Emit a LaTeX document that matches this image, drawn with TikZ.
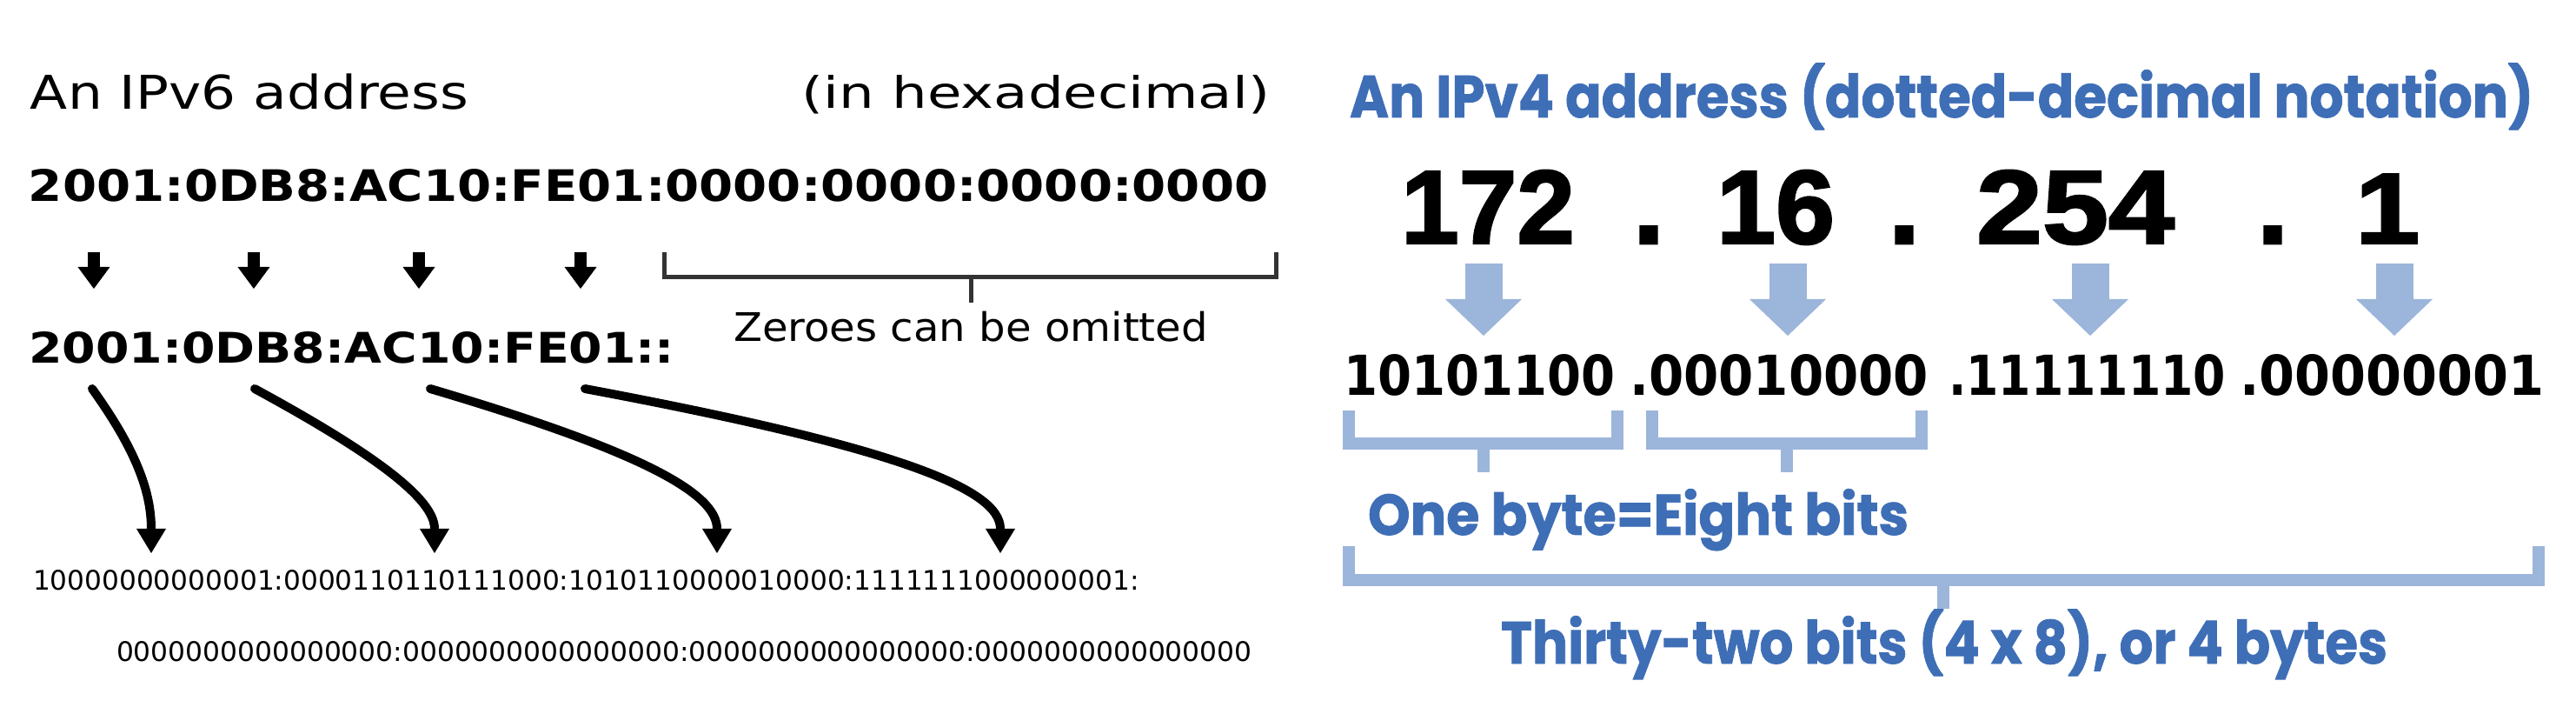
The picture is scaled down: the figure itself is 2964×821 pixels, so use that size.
\documentclass[tikz,border=0pt]{standalone}
\usepackage{fontspec}
\usepackage{graphicx}
\setmainfont{DejaVu Sans}
\newfontfamily\popf{Poppins}[BoldFeatures={FakeBold=1.2}]
\newfontfamily\libf{Liberation Sans}[BoldFeatures={FakeBold=2}]
\usetikzlibrary{arrows.meta}
\newdimen\pxu \pxu=0.25pt
\newcommand\fitbox[4]{\resizebox{#1\pxu}{#2\pxu}{\vphantom{#3}\smash{#4}}}
\definecolor{ipblue}{HTML}{3E6EB6}
\definecolor{ltblue}{HTML}{9CB5DA}
\definecolor{brk}{HTML}{333333}
\begin{document}
\begin{tikzpicture}[x=0.25pt,y=-0.25pt,
  txt/.style={inner sep=0pt,outer sep=0pt,anchor=base west},
  ctxt/.style={inner sep=0pt,outer sep=0pt,anchor=base},
  blackarrow/.style={line width=3.5pt,-{Triangle[width=9.25pt,length=6.25pt,line width=0pt]}},
  curvearrow/.style={line width=2.5pt,line cap=round,-{Triangle[width=8.5pt,length=7pt,line width=0pt]}},
  bluearrow/.style={ltblue,line width=10.75pt,-{Triangle[width=22pt,length=10.5pt,line width=0pt]}},
  bluebracket/.style={ltblue,line width=3.3pt},
  graybracket/.style={brk,line width=1.25pt}]
\fill[white] (0,0) rectangle (2964,821);
\useasboundingbox (0,0) rectangle (2964,821);

% ---------------- IPv6 side ----------------
\node[txt] (t6) at (35,126) {\fitbox{504}{39}{A}{An IPv6 address}};
\node[txt,anchor=base east] (thex) at (1461,125) {\fitbox{538}{38}{h}{(in hexadecimal)}};
\node[txt] (hex1) at (33,232) {\bfseries\fitbox{1426}{37}{0}{2001:0DB8:AC10:FE01:0000:0000:0000:0000}};
\node[txt] (hex2) at (33,418) {\bfseries\fitbox{743}{36}{0}{2001:0DB8:AC10:FE01::}};
\node[txt] (zer) at (844,393) {\fitbox{546}{33}{Z}{Zeroes can be omitted}};
\node[txt] (bin1) at (38,678) {\fitbox{1273}{23}{0}{10000000000001:0000110110111000:1010110000010000:1111111000000001:}};
\node[txt] (bin2) at (134,760) {\fitbox{1307}{23}{0}{0000000000000000:0000000000000000:0000000000000000:0000000000000000}};

% small arrows
\foreach \i/\x in {1/108,2/292,3/482,4/668}{
  \coordinate (sa\i) at (\x,290);
  \coordinate (sb\i) at (\x,332);
  \draw[blackarrow] (sa\i) -- (sb\i);
}
% bracket over zeroes
\coordinate (zl) at (764,290);
\coordinate (zr) at (1468,290);
\coordinate (zt) at (1117,348);
\draw[graybracket] (zl) -- (764,319) -- (1468,319) -- (zr);
\draw[graybracket] (1117,319) -- (zt);

% curved arrows
\coordinate (c1s) at (106,447); \coordinate (c1e) at (174,636);
\coordinate (c2s) at (293,447); \coordinate (c2e) at (500,636);
\coordinate (c3s) at (495,447); \coordinate (c3e) at (825,636);
\coordinate (c4s) at (673,447); \coordinate (c4e) at (1151,636);
\draw[curvearrow] (c1s) .. controls (157,518) and (174,566) .. (c1e);
\draw[curvearrow] (c2s) .. controls (448,531) and (500,578) .. (c2e);
\draw[curvearrow] (c3s) .. controls (742,520) and (825,568) .. (c3e);
\draw[curvearrow] (c4s) .. controls (1031,514) and (1151,562) .. (c4e);

% ---------------- IPv4 side ----------------
\node[txt] (t4) at (1553,135) {\color{ipblue}\popf\bfseries\fitbox{1362}{48}{A}{An IPv4 address (dotted-decimal notation)}};

\node[txt] (n1) at (1612,280) {\libf\bfseries\fitbox{200}{83}{1}{172}};
\node[txt] (n2) at (1975,280) {\libf\bfseries\fitbox{136}{83}{1}{16}};
\node[txt] (n3) at (2274,280) {\libf\bfseries\fitbox{228}{83}{1}{254}};
\node[ctxt] (n4) at (2747,280) {\libf\bfseries\fontsize{29pt}{29pt}\selectfont\scalebox{1.15}[1]{1}};
\node[ctxt] (d1) at (1897,280) {\libf\bfseries\fontsize{33pt}{33pt}\selectfont .};
\node[ctxt] (d2) at (2191,280) {\libf\bfseries\fontsize{33pt}{33pt}\selectfont .};
\node[ctxt] (d3) at (2615,280) {\libf\bfseries\fontsize{33pt}{33pt}\selectfont .};

\foreach \i/\x in {1/1707,2/2057,3/2405,4/2755}{
  \coordinate (ba\i) at (\x,303);
  \coordinate (bb\i) at (\x,386);
  \draw[bluearrow] (ba\i) -- (bb\i);
}

\node[txt] (b1) at (1546,455) {\bfseries\fitbox{312}{47}{0}{10101100}};
\node[txt] (b2) at (1875,455) {\bfseries\fitbox{344}{47}{0}{.00010000}};
\node[txt] (b3) at (2242,455) {\bfseries\fitbox{319}{47}{0}{.11111110}};
\node[txt] (b4) at (2577,455) {\bfseries\fitbox{350}{47}{0}{.00000001}};

% byte brackets
\draw[bluebracket] (1552,472) -- (1552,510) -- (1861,510) -- (1861,472);
\draw[bluebracket] (1707,510) -- (1707,543);
\draw[bluebracket] (1901,472) -- (1901,510) -- (2211,510) -- (2211,472);
\draw[bluebracket] (2056,510) -- (2056,543);

\node[txt] (ob) at (1574,615) {\color{ipblue}\popf\bfseries\fitbox{622}{47}{O}{One byte=Eight bits}};

% total bracket
\draw[bluebracket] (1552,628) -- (1552,667) -- (2921,667) -- (2921,628);
\draw[bluebracket] (2236,667) -- (2236,700);

\node[txt] (tb) at (1727,763) {\color{ipblue}\popf\bfseries\fitbox{1020}{48}{T}{Thirty-two bits (4 x 8), or 4 bytes}};
\end{tikzpicture}
\end{document}
